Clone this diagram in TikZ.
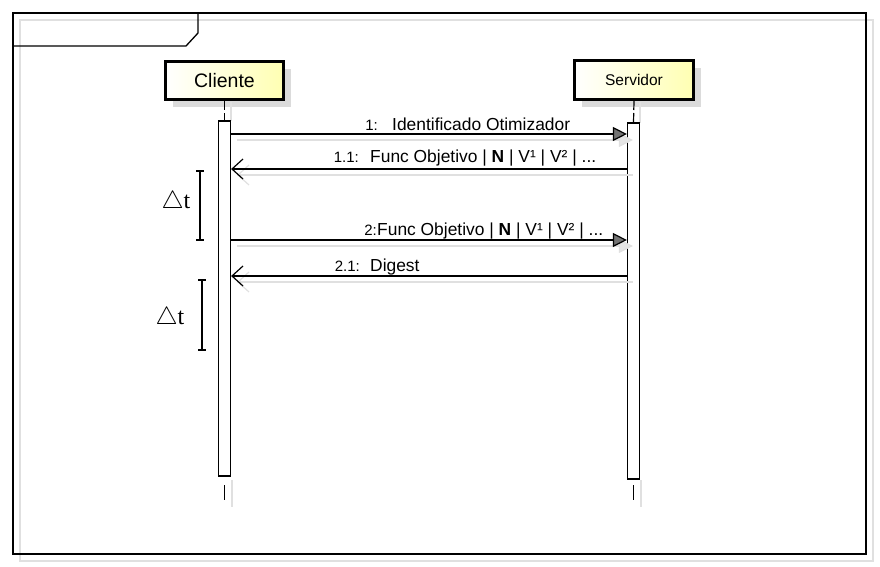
\documentclass[tikz,border=0pt]{standalone}
\usepackage{fontspec}
\setmainfont{Liberation Sans}
\newfontfamily\seriffont{Liberation Serif}
\usetikzlibrary{arrows.meta,shadows}
\begin{document}
\begin{tikzpicture}[x=1pt,y=-1pt,
  lbl/.style={font=\fontsize{17.4}{19}\selectfont, inner sep=0pt, anchor=base west},
  num/.style={font=\fontsize{15}{17}\selectfont, inner sep=0pt, anchor=base east},
  actor/.style={draw=black, line width=3pt, inner sep=0pt, left color=white, right color=yellow!30,
    drop shadow={shadow xshift=7pt, shadow yshift=-7pt, fill=black!14, opacity=1}},
  act/.style={draw=black, line width=1.2pt, fill=white, minimum width=12pt, inner sep=0pt},
  shline/.style={draw=black!12, line width=1.2pt},
  msg/.style={line width=1.2pt, -{Triangle[length=14pt,width=14pt,fill=black!55]}},
  msgsh/.style={line width=1.2pt, draw=black!12, -{Triangle[length=14pt,width=14pt,fill=black!10]}},
  reply/.style={line width=1.2pt, -{Straight Barb[length=11pt,width=20pt]}},
  replysh/.style={line width=1.2pt, draw=black!12, -{Straight Barb[length=11pt,width=20pt]}},
  life/.style={line width=1.2pt, dash pattern=on 9pt off 3pt},
  bracket/.style={line width=1.2pt},
  dt/.style={inner sep=0pt, font=\fontsize{24}{26}\selectfont}
]
\useasboundingbox (0,0) rectangle (880,566);
% frame
\draw[shline] (20,20) rectangle (873,561);
\draw[line width=1.3pt] (13,13) rectangle (866,554);
\draw[line width=1.3pt] (13,46) -- (186,46) -- (198,33) -- (198,13);

% actors
\node[actor, minimum width=118pt, minimum height=38pt, font=\fontsize{19.5}{21}\selectfont] (cli) at (224.5,80.5) {Cliente};
\node[actor, minimum width=119pt, minimum height=39pt, font=\fontsize{15.5}{17}\selectfont] (srv) at (634,80) {Servidor};

% lifeline shadows
\draw[shline] (231,102) -- (231,121);
\draw[shline] (640,102) -- (640,123);
\draw[shline] (232,480) -- (232,507);
\draw[shline] (641,480) -- (641,507);

% activations
\node[act, minimum height=355pt] (acli) at (224.5,298.5) {};
\node[act, minimum height=356pt] (asrv) at (633.5,301) {};

% dashed lifelines
\draw[life] (cli.south) -- (acli.north);
\draw[life] (srv.south) -- (asrv.north);
\coordinate (cend1) at (224.5,485);
\coordinate (cend2) at (224.5,500);
\coordinate (send1) at (633.5,485);
\coordinate (send2) at (633.5,500);
\draw[line width=1.2pt] (cend1) -- (cend2);
\draw[line width=1.2pt] (send1) -- (send2);

% message y-levels
\coordinate (y1) at (0,134);
\coordinate (y2) at (0,169);
\coordinate (y3) at (0,240);
\coordinate (y4) at (0,276);

% shadows of messages
\begin{scope}[transform canvas={shift={(6pt,-6pt)}}]
\draw[msgsh] (acli.east |- y1) -- (asrv.west |- y1);
\draw[replysh] (asrv.west |- y2) -- (acli.east |- y2);
\draw[msgsh] (acli.east |- y3) -- (asrv.west |- y3);
\draw[replysh] (asrv.west |- y4) -- (acli.east |- y4);
\end{scope}

% messages
\draw[msg] (acli.east |- y1) -- (asrv.west |- y1);
\draw[reply] (asrv.west |- y2) -- (acli.east |- y2);
\draw[msg] (acli.east |- y3) -- (asrv.west |- y3);
\draw[reply] (asrv.west |- y4) -- (acli.east |- y4);

% labels
\node[num] (n1) at (378,130) {1:};
\node[lbl] (l1) at (392,130) {Identificado Otimizador};
\node[num] (n2) at (359,162) {1.1:};
\node[lbl] (l2) at (370,162) {Func Objetivo | \textbf{N} | V¹ | V² | ...};
\node[num] (n3) at (377,235) {2:};
\node[lbl] (l3) at (377,235) {Func Objetivo | \textbf{N} | V¹ | V² | ...};
\node[num] (n4) at (360,271) {2.1:};
\node[lbl] (l4) at (370,271) {Digest};

% delta t brackets
\draw[bracket] (196,171) -- (204,171) (200,171) -- (200,240) (196,240) -- (204,240);
\draw[bracket] (198,280) -- (206,280) (202,280) -- (202,350) (198,350) -- (206,350);
\node[dt] (dt1) at (176,202) {$\triangle${\seriffont t}};
\node[dt] (dt2) at (170,318) {$\triangle${\seriffont t}};
\end{tikzpicture}
\end{document}
